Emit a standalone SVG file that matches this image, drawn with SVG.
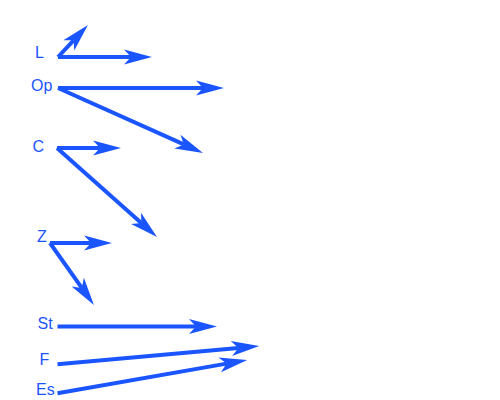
<svg xmlns="http://www.w3.org/2000/svg" width="500" height="400" viewBox="0 0 500 400">
<defs>
<style>
.lbl{font-family:"Liberation Sans",Arial,sans-serif;font-size:16px;fill:#1a55ff}
.c{stroke:#1a55ff;stroke-width:4;fill:none;marker-end:url(#ah)}
</style>
<marker id="ah" markerUnits="userSpaceOnUse" markerWidth="32" markerHeight="18" viewBox="-8 -9 32 18" refX="0" refY="0" orient="auto">
<path d="M21,0 L-7,-7.5 L0,0 L-7,7.5 Z" fill="#1a55ff"/>
</marker>
</defs>
<rect width="500" height="400" fill="#ffffff"/>
<g id="connectors">
<line class="c" x1="58" y1="57" x2="73.6" y2="40.3"/>
<line class="c" x1="58" y1="57" x2="131" y2="57"/>
<line class="c" x1="58" y1="88" x2="203" y2="88"/>
<line class="c" x1="58" y1="88" x2="183.8" y2="144.4"/>
<line class="c" x1="57" y1="148" x2="100" y2="148"/>
<line class="c" x1="57" y1="148" x2="141.3" y2="223"/>
<line class="c" x1="50" y1="243" x2="91" y2="243"/>
<line class="c" x1="50" y1="243" x2="81.8" y2="287.9"/>
<line class="c" x1="57.5" y1="326.5" x2="196" y2="326.5"/>
<line class="c" x1="57.5" y1="364.3" x2="238.4" y2="347.9"/>
<line class="c" x1="57.5" y1="393.3" x2="226.6" y2="363.6"/>
</g>
<g id="L"><text class="lbl" x="35" y="57.5">L</text></g>
<g id="Op"><text class="lbl" x="31" y="91">Op</text></g>
<g id="C"><text class="lbl" x="32.5" y="151.5">C</text></g>
<g id="Z"><text class="lbl" x="37" y="242">Z</text></g>
<g id="St"><text class="lbl" x="37.5" y="329">St</text></g>
<g id="F"><text class="lbl" x="39.5" y="365">F</text></g>
<g id="Es"><text class="lbl" x="36" y="395">Es</text></g>
</svg>
